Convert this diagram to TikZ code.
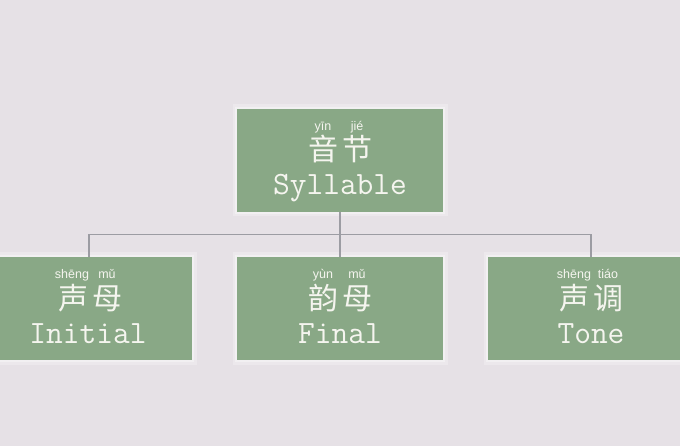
\documentclass[tikz,border=0pt]{standalone}
\usepackage{fontspec}
\newfontfamily\cjk{Noto Sans CJK SC}
\newfontfamily\pinyinfont{Liberation Sans}
\definecolor{bgcol}{HTML}{E6E1E6}
\definecolor{boxcol}{HTML}{89A886}
\definecolor{txtcol}{HTML}{F5F5EF}
\definecolor{linecol}{HTML}{9C9CA3}
\tikzset{
  card/.style={rectangle, minimum width=206pt, minimum height=103pt, inner sep=0pt,
    fill=boxcol,
    preaction={draw=white, draw opacity=0.25, line width=9pt},
    preaction={draw=white, draw opacity=0.35, line width=4.5pt}},
  pinyin/.style={anchor=base, inner sep=0pt, text=txtcol, font=\pinyinfont\fontsize{12.5}{12.5}\selectfont},
  hanzi/.style={anchor=base, inner sep=0pt, text=txtcol, font=\cjk\fontsize{30}{30}\selectfont},
  english/.style={anchor=base, inner sep=0pt, text=txtcol, font=\ttfamily\fontsize{32.5}{32.5}\selectfont},
  conn/.style={draw=linecol, line width=1.3pt}
}
\begin{document}
\begin{tikzpicture}[x=1pt,y=-1pt]
\useasboundingbox (0,0) rectangle (680,446);
\fill[bgcol] (0,0) rectangle (680,446);
\clip (0,0) rectangle (680,446);
% boxes
\node[card] (top) at (340,160.5) {};
\node[card] (left) at (89,308.5) {};
\node[card] (mid) at (340,308.5) {};
\node[card] (right) at (591,308.5) {};
% connectors
\coordinate (j) at (340,234.5);
\draw[conn] (top.south) -- (mid.north);
\draw[conn] (left.north) |- (j) -| (right.north);
% top texts
\node[pinyin] (tp1) at (323,130.5) {yīn};
\node[pinyin] (tp2) at (357,130.5) {jié};
\node[hanzi] (th1) at (323,161) {音};
\node[hanzi] (th2) at (357,161) {节};
\node[english] (te) at (340,195) {Syllable};
% left texts
\node[pinyin] (lp1) at (72,278.5) {shēng};
\node[pinyin] (lp2) at (107,278.5) {mǔ};
\node[hanzi] (lh1) at (73,309) {声};
\node[hanzi] (lh2) at (107,309) {母};
\node[english] (le) at (88,343) {Initial};
% middle texts
\node[pinyin] (mp1) at (323,278.5) {yùn};
\node[pinyin] (mp2) at (357,278.5) {mǔ};
\node[hanzi] (mh1) at (323,309) {韵};
\node[hanzi] (mh2) at (357,309) {母};
\node[english] (me) at (340,343) {Final};
% right texts
\node[pinyin] (rp1) at (574,278.5) {shēng};
\node[pinyin] (rp2) at (608,278.5) {tiáo};
\node[hanzi] (rh1) at (574,309) {声};
\node[hanzi] (rh2) at (608,309) {调};
\node[english] (re) at (591,343) {Tone};
\end{tikzpicture}
\end{document}
